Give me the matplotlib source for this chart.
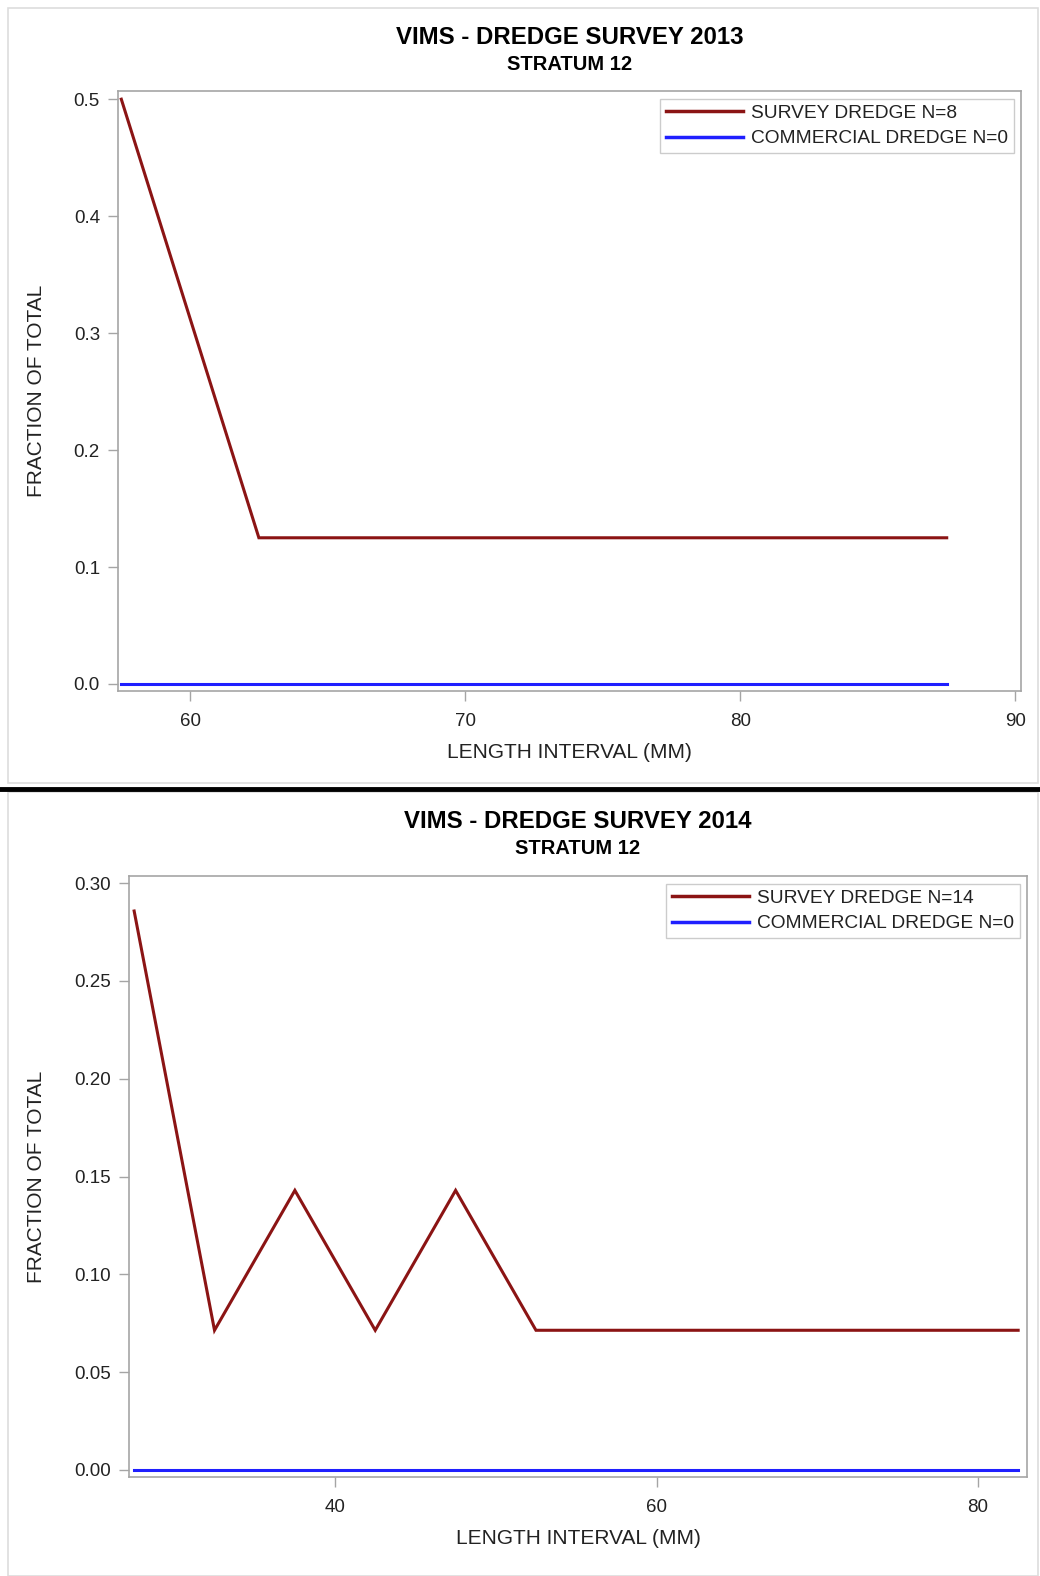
import matplotlib
matplotlib.use("Agg")
import matplotlib.pyplot as plt
from matplotlib.lines import Line2D
from matplotlib.patches import Rectangle

plt.rcParams['font.family'] = ['Liberation Sans', 'DejaVu Sans']

# data
len_2013 = [57.5, 62.5, 67.5, 72.5, 77.5, 82.5, 87.5]
survey_2013 = [0.5, 0.125, 0.125, 0.125, 0.125, 0.125, 0.125]
comm_2013 = [0, 0, 0, 0, 0, 0, 0]

len_2014 = [27.5, 32.5, 37.5, 42.5, 47.5, 52.5, 57.5, 62.5, 67.5, 72.5, 77.5, 82.5]
survey_2014 = [0.2857, 0.0714, 0.1429, 0.0714, 0.1429, 0.0714,
               0.0714, 0.0714, 0.0714, 0.0714, 0.0714, 0.0714]
comm_2014 = [0] * 12

W, H = 1040, 1576
fig = plt.figure(figsize=(W / 100, H / 100), dpi=100)

RED = '#8B1414'
BLUE = '#1F1FFF'
GREY = '#A5A5A5'


def px_axes(l, t, r, b):
    return fig.add_axes([l / W, 1 - b / H, (r - l) / W, (b - t) / H])


def panel(box, title, xs, surv, comm, n_surv, n_comm, xlim, ylim, xticks, yticks, yfmt,
          title_y, xlab_y, ylab_x, leg):
    ax = px_axes(*box)
    ax.plot(xs, surv, color=RED, lw=2.2, solid_joinstyle='miter')
    ax.plot(xs, comm, color=BLUE, lw=2.2)
    ax.set_xlim(*xlim)
    ax.set_ylim(*ylim)
    ax.set_xticks(xticks)
    ax.set_yticks(yticks)
    ax.set_yticklabels([yfmt.format(v) for v in yticks])
    for s in ax.spines.values():
        s.set_color(GREY)
        s.set_linewidth(1.2)
    ax.tick_params(color=GREY, length=7, width=1, labelsize=13.5, labelcolor='#222222', pad=6)
    ax.tick_params(axis='x', pad=9)
    cx = (box[0] + box[2]) / 2 / W
    fig.text(cx, 1 - title_y / H, title, ha='center', va='center',
             fontsize=17.3, fontweight='bold')
    fig.text(cx, 1 - (title_y + 27) / H, 'STRATUM 12', ha='center', va='center',
             fontsize=14.5, fontweight='bold')
    fig.text(cx, 1 - xlab_y / H, 'LENGTH INTERVAL (MM)', ha='center', va='center',
             fontsize=15, color='#222222')
    fig.text(ylab_x / W, 1 - ((box[1] + box[3]) / 2) / H, 'FRACTION OF TOTAL',
             rotation=90, ha='center', va='center', fontsize=15, color='#222222')
    handles = [Line2D([], [], color=RED, lw=2.5), Line2D([], [], color=BLUE, lw=2.5)]
    lg = ax.legend(handles, ['SURVEY DREDGE N=%d' % n_surv, 'COMMERCIAL DREDGE N=%d' % n_comm],
                   loc='upper right', bbox_to_anchor=(leg[0] / W, 1 - leg[1] / H),
                   bbox_transform=fig.transFigure, fancybox=False, framealpha=1,
                   edgecolor='#CCCCCC', fontsize=13.8, handlelength=4.0, handletextpad=0.45,
                   borderpad=0.3, labelspacing=0.4, borderaxespad=0)
    for t in lg.get_texts():
        t.set_color('#222222')
    return ax


panel((118, 91, 1021, 691), 'VIMS - DREDGE SURVEY 2013', len_2013, survey_2013, comm_2013, 8, 0,
      (57.38, 90.2), (-0.006, 0.507), [60, 70, 80, 90], [0, 0.1, 0.2, 0.3, 0.4, 0.5], '{:.1f}',
      38, 752, 37, (1014, 99))

panel((129, 876, 1027, 1477), 'VIMS - DREDGE SURVEY 2014', len_2014, survey_2014, comm_2014, 14, 0,
      (27.18, 83.05), (-0.0036, 0.3036), [40, 60, 80], [0, 0.05, 0.1, 0.15, 0.2, 0.25, 0.3], '{:.2f}',
      822, 1538, 37, (1020, 884))

# panel borders and separator
fig.patches.append(Rectangle((8 / W, 1 - 783 / H), 1030 / W, 775 / H, transform=fig.transFigure,
                             fill=False, edgecolor='#DDDDDD', lw=1.2))
fig.patches.append(Rectangle((8 / W, 1 - 1576 / H), 1030 / W, 784 / H, transform=fig.transFigure,
                             fill=False, edgecolor='#DDDDDD', lw=1.2))
fig.add_artist(Line2D([0, 1], [1 - 789 / H, 1 - 789 / H], transform=fig.transFigure,
                      color='black', lw=3.5))

fig.savefig('out.png', dpi=100)
